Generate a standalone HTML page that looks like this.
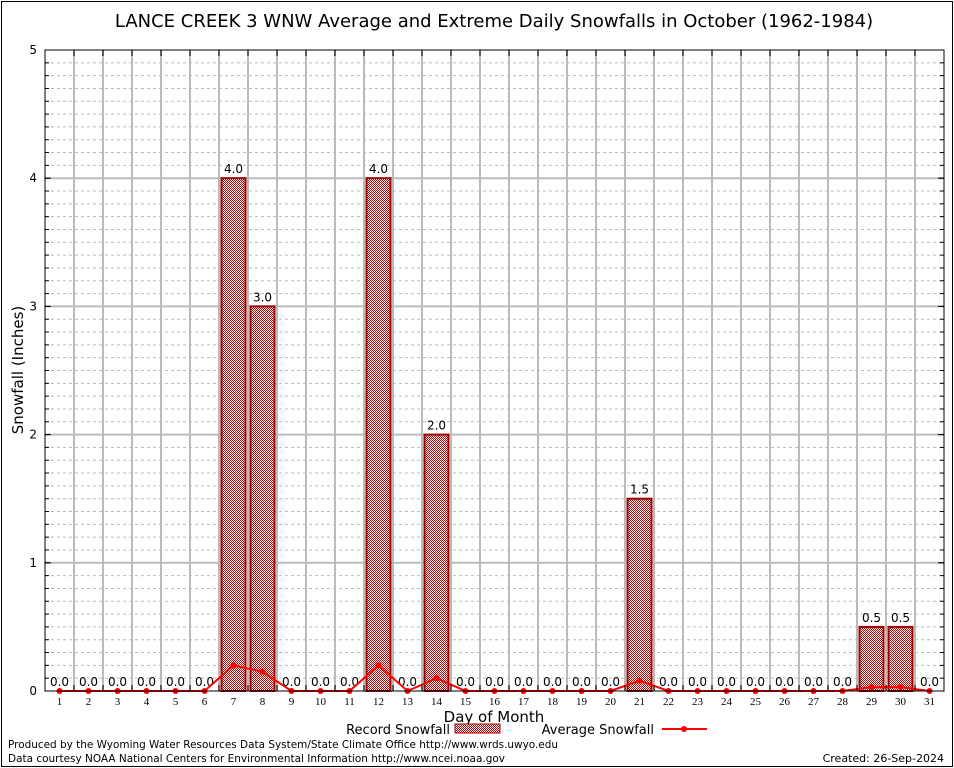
<!DOCTYPE html>
<html><head><meta charset="utf-8"><style>
body{margin:0;background:#fff;}
svg{display:block;font-family:"DejaVu Sans","Liberation Sans",sans-serif;}
</style></head><body>
<svg id="c" width="954" height="768" xmlns="http://www.w3.org/2000/svg">
<defs><pattern id="chk" width="2" height="2" patternUnits="userSpaceOnUse">
<rect width="2" height="2" fill="#fff"/><rect width="1" height="1" fill="#c00000"/><rect x="1" y="1" width="1" height="1" fill="#c00000"/></pattern></defs>
<rect x="1.5" y="1.5" width="951" height="765" fill="none" stroke="#000"/>
<text x="494" y="27" font-size="18" text-anchor="middle">LANCE CREEK 3 WNW Average and Extreme Daily Snowfalls in October (1962-1984)</text>
<g id="grid"></g><g id="bars"></g><g id="line"></g><g id="axes"></g>
<text x="23" y="370" font-size="15" text-anchor="middle" transform="rotate(-90 23 370)">Snowfall (Inches)</text>
<text x="494" y="722" font-size="15" text-anchor="middle">Day of Month</text>
<g>
<text x="450" y="734" font-size="13" text-anchor="end">Record Snowfall</text>
<rect x="455" y="724" width="45" height="9" fill="url(#chk)" stroke="#a00000"/>
<text x="654" y="734" font-size="13" text-anchor="end">Average Snowfall</text>
<line x1="662" y1="729" x2="707" y2="729" stroke="#f00" stroke-width="2"/>
<circle cx="684" cy="729" r="3" fill="#f00"/>
</g>
<text x="8" y="748" font-size="11" textLength="550" lengthAdjust="spacingAndGlyphs">Produced by the Wyoming Water Resources Data System/State Climate Office http://www.wrds.uwyo.edu</text>
<text x="8" y="762" font-size="11" textLength="497" lengthAdjust="spacingAndGlyphs">Data courtesy NOAA National Centers for Environmental Information http://www.ncei.noaa.gov</text>
<text x="944" y="762" font-size="11" text-anchor="end">Created: 26-Sep-2024</text>
</svg>
<script>
const days=[1,2,3,4,5,6,7,8,9,10,11,12,13,14,15,16,17,18,19,20,21,22,23,24,25,26,27,28,29,30,31];
const recordValues=[0,0,0,0,0,0,4.0,3.0,0,0,0,4.0,0,2.0,0,0,0,0,0,0,1.5,0,0,0,0,0,0,0,0.5,0.5,0];
const averageValues=[0,0,0,0,0,0,0.2,0.15,0,0,0,0.2,0,0.1,0,0,0,0,0,0,0.08,0,0,0,0,0,0,0,0.03,0.03,0];
const yTicks=[0,1,2,3,4,5];
const NS="http://www.w3.org/2000/svg";
const L=45,R=944,T=50,B=691,slot=(R-L)/days.length;
const xs=d=>L+(d-0.5)*slot, ys=v=>B-v*(B-T)/5;
function mk(p,t,a){const e=document.createElementNS(NS,t);for(const k in a)e.setAttribute(k,a[k]);document.getElementById(p).appendChild(e);return e;}
for(let i=1;i<50;i++){if(i%10==0)continue;const e=mk('grid','line',{x1:L,x2:R,y1:ys(i/10),y2:ys(i/10),stroke:'#bbb','stroke-dasharray':'3,3'});

}
for(let d=1;d<days.length;d++){const e=mk('grid','line',{x1:L+d*slot,x2:L+d*slot,y1:T,y2:B,stroke:'#bbb','stroke-width':2});

}
yTicks.forEach(v=>{if(v>0&&v<5){const e=mk('grid','line',{x1:L,x2:R,y1:ys(v),y2:ys(v),stroke:'#bbb','stroke-width':2});

}
const t=mk('axes','text',{x:L-8,y:ys(v)+4,'font-size':12,'text-anchor':'end'});t.textContent=v;


mk('axes','line',{x1:L,x2:L+6,y1:ys(v),y2:ys(v),stroke:'#000'});mk('axes','line',{x1:R,x2:R-6,y1:ys(v),y2:ys(v),stroke:'#000'});});
for(let i=1;i<50;i++){mk('axes','line',{x1:L,x2:L+4,y1:ys(i/10),y2:ys(i/10),stroke:'#000'});mk('axes','line',{x1:R,x2:R-4,y1:ys(i/10),y2:ys(i/10),stroke:'#000'});}
mk('axes','rect',{x:L,y:T,width:R-L,height:B-T,fill:'none',stroke:'#000'});
days.forEach((d,i)=>{
 const t=mk('axes','text',{x:xs(d),y:B+14,'font-size':11,'text-anchor':'middle','font-family':'Liberation Serif, serif'});t.textContent=d;
 
 
 mk('axes','line',{x1:L+d*slot,x2:L+d*slot,y1:B,y2:B-6,stroke:'#000'});mk('axes','line',{x1:L+d*slot,x2:L+d*slot,y1:T,y2:T+6,stroke:'#000'});
 const v=recordValues[i];
 if(v>0){const b=mk('bars','rect',{x:xs(d)-12,y:ys(v),width:24,height:B-ys(v),fill:'url(#chk)',stroke:'#a00000','stroke-width':2});
 
 }
 const l=mk('bars','text',{x:xs(d),y:ys(v)-5,'font-size':12,'text-anchor':'middle'});l.textContent=v.toFixed(1);
 
 
});
const pl=mk('line','polyline',{points:days.map((d,i)=>xs(d)+','+ys(averageValues[i])).join(' '),fill:'none',stroke:'#f00','stroke-width':2});


days.forEach((d,i)=>{const c=mk('line','circle',{cx:xs(d),cy:ys(averageValues[i]),r:3,fill:'#f00'});

});
</script>
</body></html>
